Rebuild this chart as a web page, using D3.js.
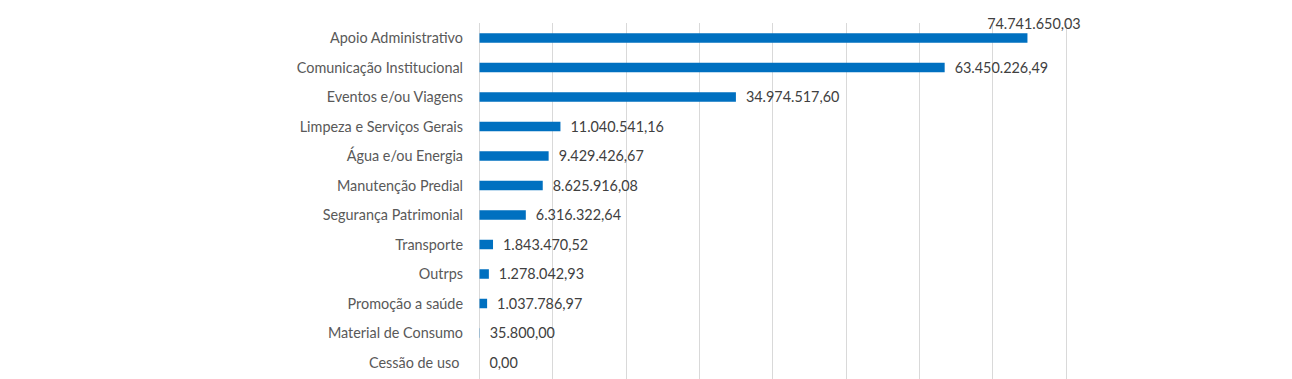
<!DOCTYPE html>
<html><head><meta charset="utf-8">
<script src="https://cdn.jsdelivr.net/npm/d3@7/dist/d3.min.js"></script>
<style>
html,body{margin:0;padding:0;background:#fff;}
svg{display:block;}
text{font-family:Lato,"Open Sans",sans-serif;}
</style></head>
<body>
<svg id="chart" width="1292" height="379"></svg>
<script>
const categories = ["Apoio Administrativo","Comunicação Institucional","Eventos e/ou Viagens","Limpeza e Serviços Gerais","Água e/ou Energia","Manutenção Predial","Segurança Patrimonial","Transporte","Outrps","Promoção a saúde","Material de Consumo","Cessão de uso "];
const values = [74741650.03,63450226.49,34974517.60,11040541.16,9429426.67,8625916.08,6316322.64,1843470.52,1278042.93,1037786.97,35800.00,0.00];
const labels = ["74.741.650,03","63.450.226,49","34.974.517,60","11.040.541,16","9.429.426,67","8.625.916,08","6.316.322,64","1.843.470,52","1.278.042,93","1.037.786,97","35.800,00","0,00"];
const xTicks = [0,10e6,20e6,30e6,40e6,50e6,60e6,70e6,80e6];

const svg = d3.select("#chart");
const x = d3.scaleLinear().domain([0,80e6]).range([479,1065.5]);
const y = d3.scaleBand().domain(categories).range([23.25,377.25]);
const barH = 9.5;

svg.append("g").selectAll("line").data(xTicks).join("line")
  .attr("x1",d=>Math.round(x(d))+0.5).attr("x2",d=>Math.round(x(d))+0.5)
  .attr("y1",23).attr("y2",379)
  .attr("stroke","#d9d9d9").attr("stroke-width",1);

svg.append("g").selectAll("rect").data(values).join("rect")
  .attr("x",x(0)+0.5)
  .attr("y",(d,i)=>y(categories[i])+y.bandwidth()/2-barH/2)
  .attr("width",d=>Math.max(0,x(d)-x(0)))
  .attr("height",barH)
  .attr("fill","#0070c0");

svg.append("g").selectAll("text").data(categories).join("text")
  .attr("x",463).attr("y",d=>y(d)+y.bandwidth()/2)
  .attr("dy","0.35em").attr("text-anchor","end")
  .style("white-space","pre")
  .attr("font-size",14.4).attr("fill","#595959")
  .text(d=>d);

const lab = svg.append("g").selectAll("text").data(values).join("text")
  .attr("font-size",14.4).attr("fill","#404040")
  .text((d,i)=>labels[i]);
lab.each(function(d,i){
  const t = d3.select(this);
  const w = this.getComputedTextLength();
  const cy = y(categories[i])+y.bandwidth()/2;
  const lx = x(d)+10.5;
  if (lx + w > 1080) {
    t.attr("x",x(d)+7).attr("y",cy-barH/2-4).attr("text-anchor","middle");
  } else {
    t.attr("x",lx).attr("y",cy).attr("dy","0.35em");
  }
});
</script>
</body></html>
